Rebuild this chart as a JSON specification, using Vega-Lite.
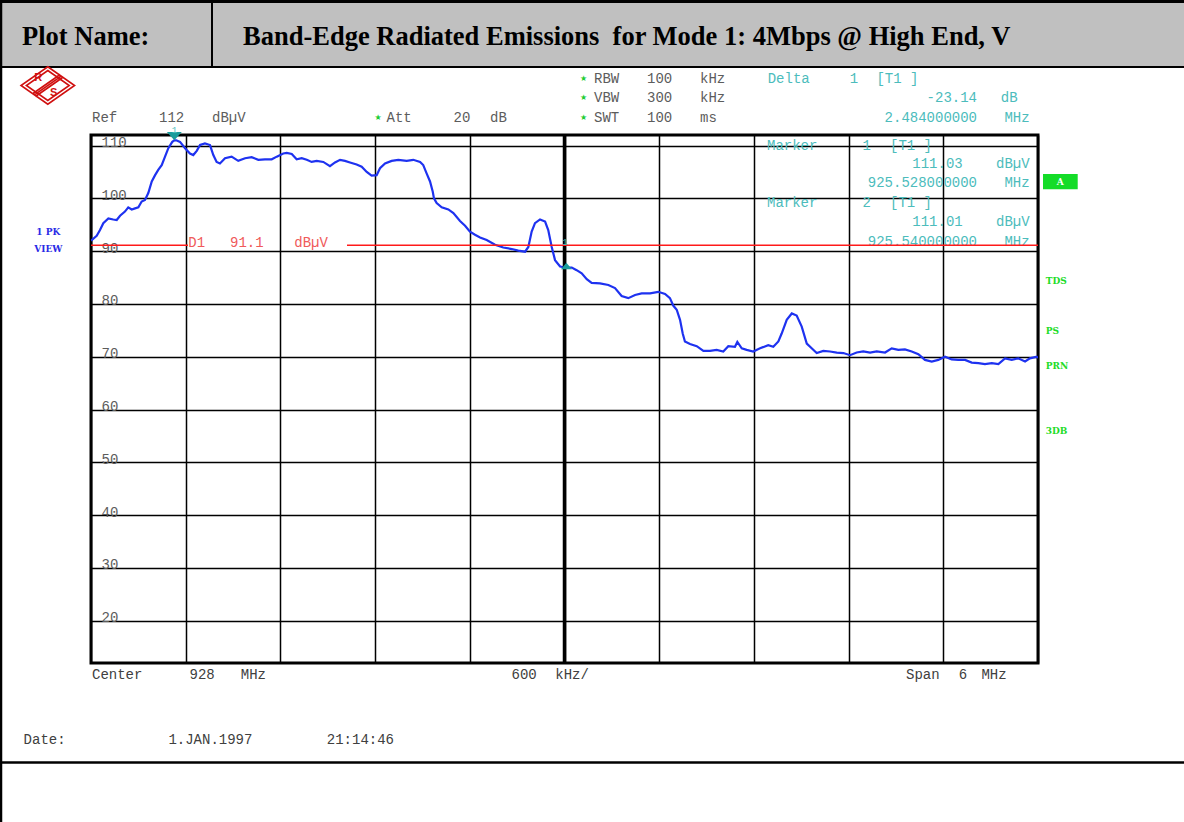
{
  "$schema": "https://vega.github.io/schema/vega-lite/v6.json",
  "width": 947,
  "height": 528,
  "autosize": {"type": "none"},
  "padding": {"left": 91, "top": 135, "right": 146, "bottom": 159},
  "background": "#ffffff",
  "config": {
    "view": {"stroke": "#000000", "strokeWidth": 3},
    "text": {"font": "Liberation Mono", "fontSize": 14, "baseline": "middle", "align": "left", "color": "#5c5c5c"},
    "rule": {"color": "#000000"}
  },
  "data": {"values": [{}]},
  "datasets": {
    "trace": [
      {"freq": 925.000, "level": 92.0}, {"freq": 925.004, "level": 92.1}, {"freq": 925.036, "level": 92.9},
      {"freq": 925.057, "level": 94.0}, {"freq": 925.078, "level": 95.3}, {"freq": 925.110, "level": 96.2},
      {"freq": 925.141, "level": 96.0}, {"freq": 925.163, "level": 95.9}, {"freq": 925.184, "level": 96.7},
      {"freq": 925.215, "level": 97.5}, {"freq": 925.236, "level": 98.3}, {"freq": 925.258, "level": 97.9},
      {"freq": 925.279, "level": 98.1}, {"freq": 925.300, "level": 98.3}, {"freq": 925.321, "level": 99.4},
      {"freq": 925.342, "level": 99.7}, {"freq": 925.363, "level": 101.0}, {"freq": 925.385, "level": 103.2},
      {"freq": 925.406, "level": 104.4}, {"freq": 925.426, "level": 105.4}, {"freq": 925.448, "level": 106.3},
      {"freq": 925.469, "level": 107.9}, {"freq": 925.490, "level": 109.5}, {"freq": 925.515, "level": 110.7},
      {"freq": 925.528, "level": 111.0}, {"freq": 925.540, "level": 111.0}, {"freq": 925.564, "level": 110.7},
      {"freq": 925.596, "level": 109.5}, {"freq": 925.627, "level": 108.5}, {"freq": 925.648, "level": 108.2},
      {"freq": 925.670, "level": 109.0}, {"freq": 925.691, "level": 110.1}, {"freq": 925.722, "level": 110.4},
      {"freq": 925.754, "level": 110.1}, {"freq": 925.775, "level": 108.2}, {"freq": 925.796, "level": 106.9},
      {"freq": 925.817, "level": 106.6}, {"freq": 925.849, "level": 107.6}, {"freq": 925.891, "level": 107.9},
      {"freq": 925.933, "level": 107.1}, {"freq": 925.976, "level": 107.6}, {"freq": 926.018, "level": 107.8},
      {"freq": 926.060, "level": 107.3}, {"freq": 926.102, "level": 107.4}, {"freq": 926.145, "level": 107.4},
      {"freq": 926.177, "level": 107.9}, {"freq": 926.218, "level": 108.5}, {"freq": 926.240, "level": 108.6},
      {"freq": 926.272, "level": 108.4}, {"freq": 926.303, "level": 107.4}, {"freq": 926.335, "level": 107.6},
      {"freq": 926.367, "level": 107.3}, {"freq": 926.398, "level": 106.9}, {"freq": 926.430, "level": 107.1},
      {"freq": 926.472, "level": 106.9}, {"freq": 926.514, "level": 106.1}, {"freq": 926.546, "level": 106.8},
      {"freq": 926.578, "level": 107.3}, {"freq": 926.609, "level": 107.1}, {"freq": 926.641, "level": 106.8},
      {"freq": 926.683, "level": 106.4}, {"freq": 926.715, "level": 106.0}, {"freq": 926.747, "level": 105.0},
      {"freq": 926.778, "level": 104.3}, {"freq": 926.810, "level": 104.4}, {"freq": 926.831, "level": 105.7},
      {"freq": 926.863, "level": 106.6}, {"freq": 926.905, "level": 107.1}, {"freq": 926.947, "level": 107.3},
      {"freq": 927.000, "level": 107.1}, {"freq": 927.042, "level": 107.3}, {"freq": 927.085, "level": 106.9},
      {"freq": 927.105, "level": 106.3}, {"freq": 927.127, "level": 104.7}, {"freq": 927.148, "level": 103.2},
      {"freq": 927.165, "level": 101.3}, {"freq": 927.173, "level": 100.0}, {"freq": 927.190, "level": 99.1},
      {"freq": 927.222, "level": 98.3}, {"freq": 927.264, "level": 97.9}, {"freq": 927.296, "level": 97.2},
      {"freq": 927.338, "level": 95.7}, {"freq": 927.370, "level": 94.8}, {"freq": 927.401, "level": 93.7},
      {"freq": 927.433, "level": 93.1}, {"freq": 927.465, "level": 92.6}, {"freq": 927.507, "level": 92.1},
      {"freq": 927.560, "level": 91.2}, {"freq": 927.612, "level": 90.7}, {"freq": 927.666, "level": 90.4},
      {"freq": 927.707, "level": 90.1}, {"freq": 927.750, "level": 89.9}, {"freq": 927.771, "level": 90.8},
      {"freq": 927.792, "level": 93.7}, {"freq": 927.813, "level": 95.3}, {"freq": 927.845, "level": 96.0},
      {"freq": 927.877, "level": 95.6}, {"freq": 927.897, "level": 94.0}, {"freq": 927.919, "level": 90.8},
      {"freq": 927.940, "level": 88.3}, {"freq": 927.972, "level": 87.1}, {"freq": 928.010, "level": 86.9},
      {"freq": 928.046, "level": 86.9}, {"freq": 928.077, "level": 86.4}, {"freq": 928.109, "level": 85.8},
      {"freq": 928.141, "level": 84.7}, {"freq": 928.172, "level": 84.0}, {"freq": 928.225, "level": 83.9},
      {"freq": 928.278, "level": 83.6}, {"freq": 928.320, "level": 83.0}, {"freq": 928.362, "level": 81.5},
      {"freq": 928.404, "level": 81.1}, {"freq": 928.447, "level": 81.7}, {"freq": 928.489, "level": 82.0},
      {"freq": 928.542, "level": 82.0}, {"freq": 928.594, "level": 82.3}, {"freq": 928.637, "level": 81.9},
      {"freq": 928.668, "level": 81.1}, {"freq": 928.689, "level": 79.7}, {"freq": 928.711, "level": 78.9},
      {"freq": 928.732, "level": 77.0}, {"freq": 928.749, "level": 74.4}, {"freq": 928.763, "level": 72.9},
      {"freq": 928.795, "level": 72.4}, {"freq": 928.838, "level": 72.0}, {"freq": 928.880, "level": 71.1},
      {"freq": 928.922, "level": 71.1}, {"freq": 928.964, "level": 71.3}, {"freq": 929.006, "level": 71.0},
      {"freq": 929.038, "level": 72.0}, {"freq": 929.080, "level": 71.9}, {"freq": 929.095, "level": 72.8},
      {"freq": 929.123, "level": 71.6}, {"freq": 929.154, "level": 71.3}, {"freq": 929.196, "level": 71.0},
      {"freq": 929.239, "level": 71.6}, {"freq": 929.291, "level": 72.2}, {"freq": 929.323, "level": 71.9},
      {"freq": 929.355, "level": 72.9}, {"freq": 929.376, "level": 74.4}, {"freq": 929.408, "level": 77.0},
      {"freq": 929.440, "level": 78.2}, {"freq": 929.471, "level": 77.8}, {"freq": 929.503, "level": 75.7},
      {"freq": 929.535, "level": 72.5}, {"freq": 929.566, "level": 71.6}, {"freq": 929.598, "level": 70.7},
      {"freq": 929.640, "level": 71.1}, {"freq": 929.682, "level": 71.0}, {"freq": 929.725, "level": 70.8},
      {"freq": 929.767, "level": 70.7}, {"freq": 929.809, "level": 70.3}, {"freq": 929.851, "level": 70.8},
      {"freq": 929.893, "level": 71.0}, {"freq": 929.936, "level": 70.8}, {"freq": 929.978, "level": 71.0},
      {"freq": 930.031, "level": 70.8}, {"freq": 930.073, "level": 71.6}, {"freq": 930.115, "level": 71.3},
      {"freq": 930.157, "level": 71.4}, {"freq": 930.200, "level": 71.0}, {"freq": 930.242, "level": 70.5},
      {"freq": 930.284, "level": 69.4}, {"freq": 930.327, "level": 69.1}, {"freq": 930.368, "level": 69.4},
      {"freq": 930.411, "level": 70.0}, {"freq": 930.453, "level": 69.5}, {"freq": 930.495, "level": 69.4},
      {"freq": 930.538, "level": 69.4}, {"freq": 930.580, "level": 68.9}, {"freq": 930.622, "level": 68.8},
      {"freq": 930.664, "level": 68.6}, {"freq": 930.707, "level": 68.8}, {"freq": 930.749, "level": 68.6},
      {"freq": 930.791, "level": 69.7}, {"freq": 930.834, "level": 69.4}, {"freq": 930.875, "level": 69.7},
      {"freq": 930.918, "level": 69.1}, {"freq": 930.949, "level": 69.7}, {"freq": 930.992, "level": 70.0},
      {"freq": 931.000, "level": 69.8}
    ]
  },
  "layer": [
    {
      "data": {"name": "trace"},
      "mark": {"type": "line", "color": "#1e32f0", "strokeWidth": 2.2, "clip": true},
      "encoding": {
        "x": {"field": "freq", "type": "quantitative",
          "scale": {"domain": [925, 931], "nice": false, "zero": false},
          "axis": {"values": [925, 925.6, 926.2, 926.8, 927.4, 928, 928.6, 929.2, 929.8, 930.4, 931], "grid": true, "gridColor": "#000000", "gridWidth": 1.5, "gridOpacity": 1, "labels": false, "ticks": false, "domain": false, "title": null}},
        "y": {"field": "level", "type": "quantitative",
          "scale": {"domain": [12, 112], "nice": false, "zero": false},
          "axis": {"values": [20, 30, 40, 50, 60, 70, 80, 90, 100, 110], "grid": true, "gridColor": "#000000", "gridWidth": 1.5, "gridOpacity": 1, "domain": false, "ticks": false, "tickSize": 0, "labels": true, "labelAlign": "left", "labelPadding": -10, "labelFont": "Liberation Mono", "labelFontSize": 14, "labelColor": "#5c5c5c", "labelOffset": -3, "labelBaseline": "middle", "labelFlush": false, "labelOverlap": false, "labelBound": false, "title": null}}
      }
    },
    {"mark": {"type": "rect", "color": "#c0c0c0"}, "encoding": {"x": {"datum": 924.40}, "x2": {"datum": 931.95}, "y": {"datum": 137.6}, "y2": {"datum": 124.88}}},
    {"mark": {"type": "rule", "strokeWidth": 3}, "encoding": {"x": {"datum": 924.40}, "x2": {"datum": 931.95}, "y": {"datum": 137.3}}},
    {"mark": {"type": "rule", "strokeWidth": 2}, "encoding": {"x": {"datum": 924.40}, "x2": {"datum": 931.95}, "y": {"datum": 124.88}}},
    {"mark": {"type": "rule", "strokeWidth": 2}, "encoding": {"x": {"datum": 925.7666}, "y": {"datum": 137.6}, "y2": {"datum": 124.88}}},
    {"mark": {"type": "rule", "strokeWidth": 2.5}, "encoding": {"x": {"datum": 924.4298}, "y": {"datum": 137.6}, "y2": {"datum": -18.2}}},
    {"mark": {"type": "rule", "strokeWidth": 2.5}, "encoding": {"x": {"datum": 924.40}, "x2": {"datum": 931.95}, "y": {"datum": -6.85}}},
    {"mark": {"type": "text", "text": "Plot Name:", "font": "Liberation Serif", "fontWeight": "bold", "fontSize": 26.5, "color": "#000000"}, "encoding": {"x": {"datum": 924.5628}, "y": {"datum": 130.56}}},
    {"mark": {"type": "text", "text": "Band-Edge Radiated Emissions\u00a0 for Mode 1: 4Mbps @ High End, V", "font": "Liberation Serif", "fontWeight": "bold", "fontSize": 26.5, "color": "#000000"}, "encoding": {"x": {"datum": 925.963}, "y": {"datum": 130.56}}},
    {"mark": {"type": "point", "shape": "M0,-0.7L1,0L0,0.7L-1,0Z M0,-0.56L0.8,0L0,0.56L-0.8,0Z M-0.54,0.29L0.46,-0.41 M-0.5,0.35L0.5,-0.35 M-0.46,0.41L0.54,-0.29", "size": 2873, "stroke": "#d01010", "strokeWidth": 1.6, "filled": false, "opacity": 1}, "encoding": {"x": {"datum": 924.7263}, "y": {"datum": 121.375}}},
    {"mark": {"type": "text", "text": "R", "font": "Liberation Sans", "fontWeight": "bold", "fontSize": 11, "align": "center", "color": "#d01010"}, "encoding": {"x": {"datum": 924.6661}, "y": {"datum": 122.74}}},
    {"mark": {"type": "text", "text": "S", "font": "Liberation Sans", "fontWeight": "bold", "fontSize": 11, "align": "center", "color": "#d01010"}, "encoding": {"x": {"datum": 924.7630}, "y": {"datum": 119.90}}},
    {"mark": {"type": "text", "text": "Ref"}, "encoding": {"x": {"datum": 925.0063}, "y": {"datum": 115.31}}},
    {"mark": {"type": "text", "text": "112"}, "encoding": {"x": {"datum": 925.4308}, "y": {"datum": 115.31}}},
    {"mark": {"type": "text", "text": "dBµV"}, "encoding": {"x": {"datum": 925.7666}, "y": {"datum": 115.31}}},
    {"mark": {"type": "text", "text": "★", "font": "DejaVu Sans", "fontSize": 8, "align": "center", "color": "#22cc33"}, "encoding": {"x": {"datum": 926.8184}, "y": {"datum": 115.22}}},
    {"mark": {"type": "text", "text": "Att"}, "encoding": {"x": {"datum": 926.8722}, "y": {"datum": 115.31}}},
    {"mark": {"type": "text", "text": "20"}, "encoding": {"x": {"datum": 927.2967}, "y": {"datum": 115.31}}},
    {"mark": {"type": "text", "text": "dB"}, "encoding": {"x": {"datum": 927.5279}, "y": {"datum": 115.31}}},
    {"mark": {"type": "text", "text": ["★", "★", "★"], "lineHeight": 19.5, "font": "DejaVu Sans", "fontSize": 8, "align": "center", "color": "#22cc33"}, "encoding": {"x": {"datum": 928.1204}, "y": {"datum": 122.61}}},
    {"mark": {"type": "text", "text": ["RBW", "VBW", "SWT"], "lineHeight": 19.5}, "encoding": {"x": {"datum": 928.1869}, "y": {"datum": 122.61}}},
    {"mark": {"type": "text", "text": ["100", "300", "100"], "lineHeight": 19.5}, "encoding": {"x": {"datum": 928.5227}, "y": {"datum": 122.61}}},
    {"mark": {"type": "text", "text": ["kHz", "kHz", "ms"], "lineHeight": 19.5}, "encoding": {"x": {"datum": 928.8585}, "y": {"datum": 122.61}}},
    {"mark": {"type": "text", "text": "Delta", "color": "#4cbcbc"}, "encoding": {"x": {"datum": 929.2874}, "y": {"datum": 122.61}}},
    {"mark": {"type": "text", "text": "1", "color": "#4cbcbc"}, "encoding": {"x": {"datum": 929.8069}, "y": {"datum": 122.61}}},
    {"mark": {"type": "text", "text": "[T1 ]", "color": "#4cbcbc"}, "encoding": {"x": {"datum": 929.9761}, "y": {"datum": 122.61}}},
    {"mark": {"type": "text", "text": ["-23.14", "2.484000000"], "lineHeight": 20, "align": "right", "color": "#4cbcbc"}, "encoding": {"x": {"datum": 930.6135}, "y": {"datum": 119.01}}},
    {"mark": {"type": "text", "text": "dB", "align": "right", "color": "#4cbcbc"}, "encoding": {"x": {"datum": 930.8708}, "y": {"datum": 119.01}}},
    {"mark": {"type": "text", "text": "MHz", "align": "right", "color": "#4cbcbc"}, "encoding": {"x": {"datum": 930.9468}, "y": {"datum": 115.22}}},
    {"mark": {"type": "text", "text": ["Marker", "Marker"], "lineHeight": 57.6, "color": "#4cbcbc"}, "encoding": {"x": {"datum": 929.2830}, "y": {"datum": 109.97}}},
    {"mark": {"type": "text", "text": ["1", "2"], "lineHeight": 57.6, "color": "#4cbcbc"}, "encoding": {"x": {"datum": 929.8875}, "y": {"datum": 109.97}}},
    {"mark": {"type": "text", "text": ["[T1 ]", "[T1 ]"], "lineHeight": 57.6, "color": "#4cbcbc"}, "encoding": {"x": {"datum": 930.0623}, "y": {"datum": 109.97}}},
    {"mark": {"type": "text", "text": ["111.03", "111.01"], "lineHeight": 58, "align": "right", "color": "#4cbcbc"}, "encoding": {"x": {"datum": 930.5229}, "y": {"datum": 106.45}}},
    {"mark": {"type": "text", "text": ["dBµV", "dBµV"], "lineHeight": 58, "align": "right", "color": "#4cbcbc"}, "encoding": {"x": {"datum": 930.9468}, "y": {"datum": 106.45}}},
    {"mark": {"type": "text", "text": ["925.528000000", "925.540000000"], "lineHeight": 58.4, "align": "right", "color": "#4cbcbc"}, "encoding": {"x": {"datum": 930.6135}, "y": {"datum": 102.85}}},
    {"mark": {"type": "text", "text": ["MHz", "MHz"], "lineHeight": 58.4, "align": "right", "color": "#4cbcbc"}, "encoding": {"x": {"datum": 930.9468}, "y": {"datum": 102.85}}},
    {"mark": {"type": "text", "text": ["1 PK", "VIEW"], "lineHeight": 17.3, "font": "DejaVu Serif", "fontWeight": "bold", "fontSize": 9, "align": "center", "color": "#2a2ae6"}, "encoding": {"x": {"datum": 924.7295}, "y": {"datum": 93.66}}},
    {"mark": {"type": "rect", "color": "#14dc28"}, "encoding": {"x": {"datum": 931.0317}, "x2": {"datum": 931.2516}, "y": {"datum": 104.61}, "y2": {"datum": 101.72}}},
    {"mark": {"type": "text", "text": "A", "font": "DejaVu Serif", "fontWeight": "bold", "fontSize": 9, "align": "center", "color": "#ffffff"}, "encoding": {"x": {"datum": 931.1413}, "y": {"datum": 103.16}}},
    {"mark": {"type": "text", "text": "TDS", "font": "DejaVu Serif", "fontWeight": "bold", "fontSize": 9, "color": "#1edc28"}, "encoding": {"x": {"datum": 931.0488}, "y": {"datum": 84.41}}},
    {"mark": {"type": "text", "text": "PS", "font": "DejaVu Serif", "fontWeight": "bold", "fontSize": 9, "color": "#1edc28"}, "encoding": {"x": {"datum": 931.0488}, "y": {"datum": 74.88}}},
    {"mark": {"type": "text", "text": "PRN", "font": "DejaVu Serif", "fontWeight": "bold", "fontSize": 9, "color": "#1edc28"}, "encoding": {"x": {"datum": 931.0488}, "y": {"datum": 68.25}}},
    {"mark": {"type": "text", "text": "3DB", "font": "DejaVu Serif", "fontWeight": "bold", "fontSize": 9, "color": "#1edc28"}, "encoding": {"x": {"datum": 931.0488}, "y": {"datum": 55.94}}},
    {"mark": {"type": "text", "text": "Center", "color": "#404040"}, "encoding": {"x": {"datum": 925.0063}, "y": {"datum": 9.8}}},
    {"mark": {"type": "text", "text": "928", "color": "#404040"}, "encoding": {"x": {"datum": 925.6241}, "y": {"datum": 9.8}}},
    {"mark": {"type": "text", "text": "MHz", "color": "#404040"}, "encoding": {"x": {"datum": 925.9491}, "y": {"datum": 9.8}}},
    {"mark": {"type": "text", "text": "600", "color": "#404040"}, "encoding": {"x": {"datum": 927.6642}, "y": {"datum": 9.8}}},
    {"mark": {"type": "text", "text": "kHz/", "color": "#404040"}, "encoding": {"x": {"datum": 927.9417}, "y": {"datum": 9.8}}},
    {"mark": {"type": "text", "text": "Span", "color": "#404040"}, "encoding": {"x": {"datum": 930.1637}, "y": {"datum": 9.8}}},
    {"mark": {"type": "text", "text": "6", "color": "#404040"}, "encoding": {"x": {"datum": 930.4982}, "y": {"datum": 9.8}}},
    {"mark": {"type": "text", "text": "MHz", "color": "#404040"}, "encoding": {"x": {"datum": 930.6414}, "y": {"datum": 9.8}}},
    {"mark": {"type": "text", "text": "Date:", "color": "#404040"}, "encoding": {"x": {"datum": 924.5730}, "y": {"datum": -2.58}}},
    {"mark": {"type": "text", "text": "1.JAN.1997", "color": "#404040"}, "encoding": {"x": {"datum": 925.4904}, "y": {"datum": -2.58}}},
    {"mark": {"type": "text", "text": "21:14:46", "color": "#404040"}, "encoding": {"x": {"datum": 926.4940}, "y": {"datum": -2.58}}},
    {"mark": {"type": "rule", "strokeWidth": 3.5}, "encoding": {"x": {"datum": 928}}},
    {"mark": {"type": "rule", "strokeWidth": 1.5, "color": "#ff1a1a"}, "encoding": {"x": {"datum": 925}, "x2": {"datum": 925.6146}, "y": {"datum": 91.1}}},
    {"mark": {"type": "rule", "strokeWidth": 1.5, "color": "#ff1a1a"}, "encoding": {"x": {"datum": 926.622}, "x2": {"datum": 931}, "y": {"datum": 91.1}}},
    {"mark": {"type": "text", "text": "D1", "color": "#f05a5a"}, "encoding": {"x": {"datum": 925.6165}, "y": {"datum": 91.64}}},
    {"mark": {"type": "text", "text": "91.1", "color": "#f05a5a"}, "encoding": {"x": {"datum": 925.8807}, "y": {"datum": 91.64}}},
    {"mark": {"type": "text", "text": "dBµV", "color": "#f05a5a"}, "encoding": {"x": {"datum": 926.2881}, "y": {"datum": 91.64}}},
    {
      "data": {"values": [{"freq": 925.528, "level": 111.03}]},
      "mark": {"type": "point", "shape": "M-1,-0.55L1,-0.55L0,0.55Z", "size": 225, "filled": true, "color": "#1a9c9c", "opacity": 1, "yOffset": -4},
      "encoding": {"x": {"field": "freq", "type": "quantitative"}, "y": {"field": "level", "type": "quantitative"}}
    },
    {
      "data": {"values": [{"freq": 928.012, "level": 87.89}]},
      "mark": {"type": "point", "shape": "M-1,0.6L1,0.6L0,-0.6Z", "size": 121, "filled": true, "color": "#1a9c9c", "opacity": 1, "yOffset": 3.7},
      "encoding": {"x": {"field": "freq", "type": "quantitative"}, "y": {"field": "level", "type": "quantitative"}}
    },
    {"mark": {"type": "text", "text": "1", "fontSize": 9, "align": "center", "color": "#4cbcbc"}, "encoding": {"x": {"datum": 925.528}, "y": {"datum": 112.9}}},
    {"mark": {"type": "text", "text": "1", "fontSize": 9, "align": "center", "color": "#4cbcbc"}, "encoding": {"x": {"datum": 928.0032}, "y": {"datum": 91.79}}}
  ]
}
